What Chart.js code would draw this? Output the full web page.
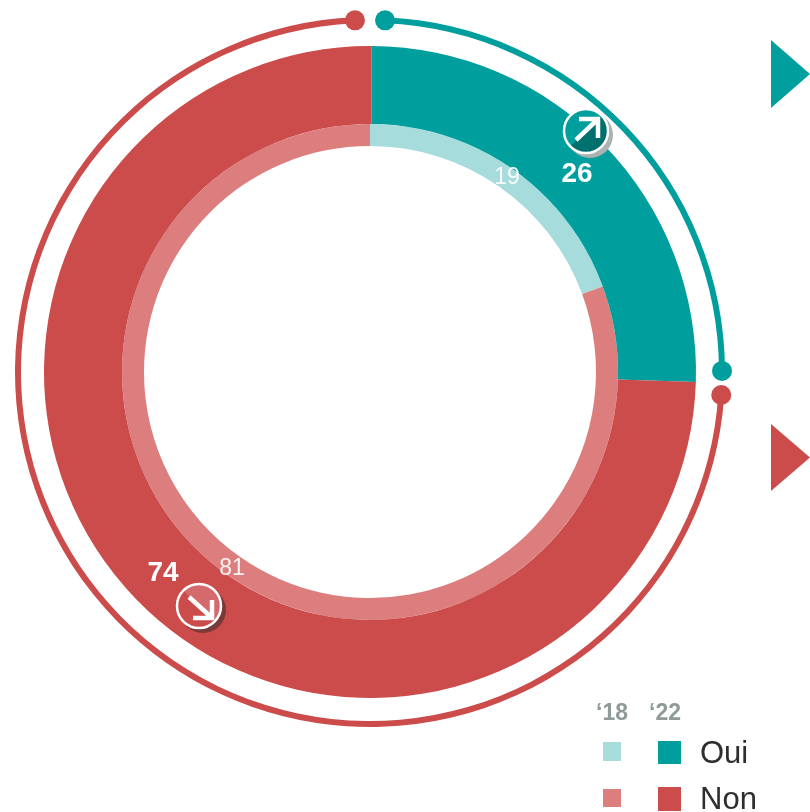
<!DOCTYPE html>
<html>
<head>
<meta charset="utf-8">
<style>
  html, body { margin: 0; padding: 0; background: #fff; overflow: hidden; }
  #wrap { position: relative; width: 810px; height: 812px; overflow: hidden; font-family: "Liberation Sans", Arial, sans-serif; }
  canvas { position: absolute; left: 0; top: 0; }
  .tri { position: absolute; width: 39px; }
  .tri.oui { left: 771px; top: 40px; height: 68px; background: #009f9d; clip-path: polygon(0 0, 100% 50%, 0 100%); }
  .tri.non { left: 771px; top: 424px; height: 67px; background: #cc4b4b; clip-path: polygon(0 0, 100% 50%, 0 100%); }
  .yr { position: absolute; top: 698px; font-size: 23px; font-weight: bold; color: #8f9b99; line-height: 28px; }
  .sw { position: absolute; }
  .name { position: absolute; left: 700px; font-size: 31px; color: #2e2e2e; line-height: 36px; }
</style>
</head>
<body>
<div id="wrap">
  <canvas id="ring" width="810" height="812"></canvas>
  <div class="tri oui"></div>
  <div class="tri non"></div>
  <div class="yr" style="left:596px">‘18</div>
  <div class="yr" style="left:649px">‘22</div>
  <div class="sw" style="left:603px;top:742px;width:18px;height:19px;background:#a6dcdb"></div>
  <div class="sw" style="left:658px;top:741px;width:23px;height:23px;background:#009f9d"></div>
  <div class="name" style="top:735px">Oui</div>
  <div class="sw" style="left:603px;top:789px;width:18px;height:18px;background:#dd7e7e"></div>
  <div class="sw" style="left:658px;top:787px;width:23px;height:24px;background:#cc4b4b"></div>
  <div class="name" style="top:781px">Non</div>
</div>
<script src="https://cdn.jsdelivr.net/npm/chart.js@4"></script>
<script>
const categories = ['Oui', 'Non'];
const values22 = [25.4, 74.6];
const values18 = [19.4, 80.6];
const labels22 = ['26', '74'];
const labels18 = ['19', '81'];
// outer thin ring: gap, oui, gap, non, gap
const outerRing = [0.68, 24.27, 1.09, 73.28, 0.68];

const TEAL = '#009f9d';
const RED = '#cc4b4b';
const CX = 370;
const CY = 372;

//dots at the ends of the outer ring, badges and value labels
const decorate = {
    id: 'decorate',
    afterDatasetsDraw(chart) {
        const ctx = chart.ctx;
        const arcs = chart.getDatasetMeta(0).data;
        const r = (arcs[1].outerRadius + arcs[1].innerRadius) / 2;

        dot(ctx, arcs[1].startAngle, r, TEAL);
        dot(ctx, arcs[1].endAngle, r, TEAL);
        dot(ctx, arcs[3].startAngle, r, RED);
        dot(ctx, arcs[3].endAngle, r, RED);

        badge(ctx, 586, 131, '#a9b3b2', TEAL, '#00706e', false);
        badge(ctx, 199, 606, '#7a3a3a', '#d56a6c', RED, true);

        ctx.fillStyle = '#fff';
        ctx.textAlign = 'center';
        ctx.textBaseline = 'alphabetic';
        ctx.font = 'bold 28px "Liberation Sans"';
        ctx.fillText(labels22[0], 577, 182);
        ctx.fillText(labels22[1], 163, 581);
        ctx.font = '23px "Liberation Sans"';
        ctx.fillStyle = 'rgba(255,255,255,0.9)';
        ctx.fillText(labels18[0], 507, 184);
        ctx.fillText(labels18[1], 232, 575);
    }
};

function dot(ctx, angle, r, color) {
    ctx.beginPath();
    ctx.arc(CX + Math.cos(angle) * r, CY + Math.sin(angle) * r, 10, 0, Math.PI * 2);
    ctx.fillStyle = color;
    ctx.fill();
}

// the disc is split along the arrow: first half in colorA, second in colorB
function badge(ctx, x, y, shadow, colorA, colorB, down) {
    ctx.beginPath();
    ctx.arc(x + 4, y + 4, 23, 0, Math.PI * 2);
    ctx.fillStyle = shadow;
    ctx.fill();

    const a = down ? Math.PI / 4 : -Math.PI / 4;
    ctx.beginPath();
    ctx.arc(x, y, 22, 0, Math.PI * 2);
    ctx.fillStyle = down ? colorB : colorA;
    ctx.fill();
    ctx.beginPath();
    if (down) {
        ctx.arc(x, y, 22, a - Math.PI, a);
    } else {
        ctx.arc(x, y, 22, a, a + Math.PI);
    }
    ctx.closePath();
    ctx.fillStyle = down ? colorA : colorB;
    ctx.fill();

    ctx.beginPath();
    ctx.arc(x, y, 22, 0, Math.PI * 2);
    ctx.strokeStyle = '#fff';
    ctx.lineWidth = 2.5;
    ctx.stroke();

    ctx.lineWidth = 4.5;
    ctx.lineCap = 'butt';
    ctx.beginPath();
    if (down) {
        ctx.moveTo(x - 10, y - 9);
        ctx.lineTo(x + 12, y + 11);
        ctx.moveTo(x + 13, y - 6);
        ctx.lineTo(x + 13, y + 12);
        ctx.lineTo(x - 6, y + 12);
    } else {
        ctx.moveTo(x - 10, y + 9);
        ctx.lineTo(x + 11, y - 11);
        ctx.moveTo(x + 12, y + 7);
        ctx.lineTo(x + 12, y - 12);
        ctx.lineTo(x - 7, y - 12);
    }
    ctx.stroke();
}

var ring = document.getElementById('ring').getContext('2d');
var ringChart = new Chart(ring, {
    type: 'doughnut',
    data: {
        labels: categories,
        datasets: [
        {
            data: outerRing,
            backgroundColor: ['transparent', TEAL, 'transparent', RED, 'transparent'],
            borderWidth: 0,
            weight: 6
        },
        {
            // empty band between the thin ring and the 2022 ring
            data: [100],
            backgroundColor: ['transparent'],
            borderWidth: 0,
            weight: 23
        },
        {
            data: values22,
            backgroundColor: [TEAL, RED],
            borderWidth: 0,
            rotation: 0.3,
            weight: 78
        },
        {
            data: values18,
            backgroundColor: ['#a6dcdb', '#dd7e7e'],
            borderWidth: 0,
            weight: 22
        }]
    },
    options: {
        responsive: false,
        animation: false,
        radius: 355,
        cutout: '63.66%',
        layout: {
            padding: { right: 70, bottom: 68 }
        },
        plugins: {
            legend: { display: false },
            tooltip: { enabled: false }
        }
    },
    plugins: [decorate]
});
</script>
</body>
</html>
